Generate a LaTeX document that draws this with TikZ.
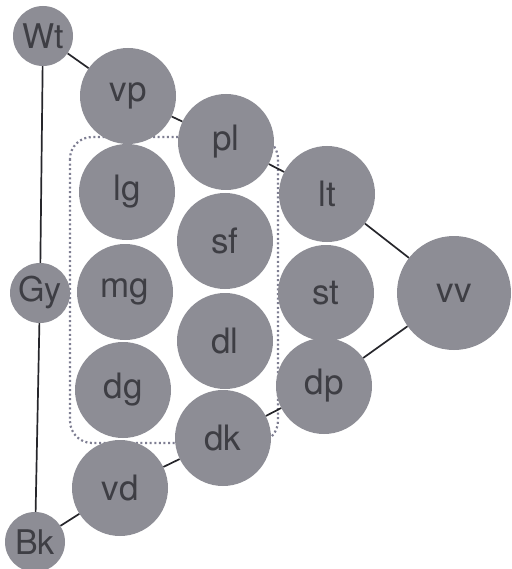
\documentclass[tikz,border=0pt]{standalone}
\usepackage{fontspec}
\setmainfont{TeX Gyre Heros}
\usepackage{xcolor}
\usepackage{tikz}
\usetikzlibrary{calc}
\definecolor{ballc}{HTML}{8D8D95}
\definecolor{inkc}{HTML}{3E3E44}
\definecolor{linec}{HTML}{26262B}
\definecolor{dotc}{HTML}{7E7E92}
\tikzset{
  ball/.style={circle,fill=ballc,text=inkc,inner sep=0pt,minimum size=96pt,font=\fontsize{35}{35}\selectfont},
  bigball/.style={ball,minimum size=114pt},
  endball/.style={ball,minimum size=60pt,font=\fontsize{34}{34}\selectfont},
  ln/.style={linec,line width=1.7pt}
}

\begin{document}
\begin{tikzpicture}[x=1pt,y=-1pt]
\useasboundingbox (0,0) rectangle (511,569);
\draw[dotc,line width=2.2pt,dash pattern=on 2pt off 2.6pt,rounded corners=22pt] (70,137) rectangle (278,443);
% gray ramp
\node[endball] (Wt) at (43,36) {Wt};
\node[endball] (Gy) at (40,293) {Gy};
\node[endball] (Bk) at (35,542) {Bk};
% first column
\node[ball] (vp) at (128,96) {vp};
\node[ball] (lg) at (127,192) {lg};
\node[ball] (mg) at (125,292) {mg};
\node[ball] (dg) at (123,390) {dg};
\node[ball] (vd) at (120,488) {vd};
% second column
\node[ball] (pl) at (226,142) {pl};
\node[ball] (sf) at (225,241) {sf};
\node[ball] (dl) at (225,341) {dl};
\node[ball] (dk) at (223,438) {dk};
% third column
\node[ball] (lt) at (327,194) {lt};
\node[ball] (st) at (326,293) {st};
\node[ball] (dp) at (324,386) {dp};
\node[bigball] (vv) at (454,293) {vv};
\draw[ln] (Wt)--(Gy)--(Bk);
\draw[ln] (Wt)--(vp)--(pl)--(lt)--(vv);
\draw[ln] (vv)--(dp)--(dk)--(vd)--(Bk);
\end{tikzpicture}
\end{document}
